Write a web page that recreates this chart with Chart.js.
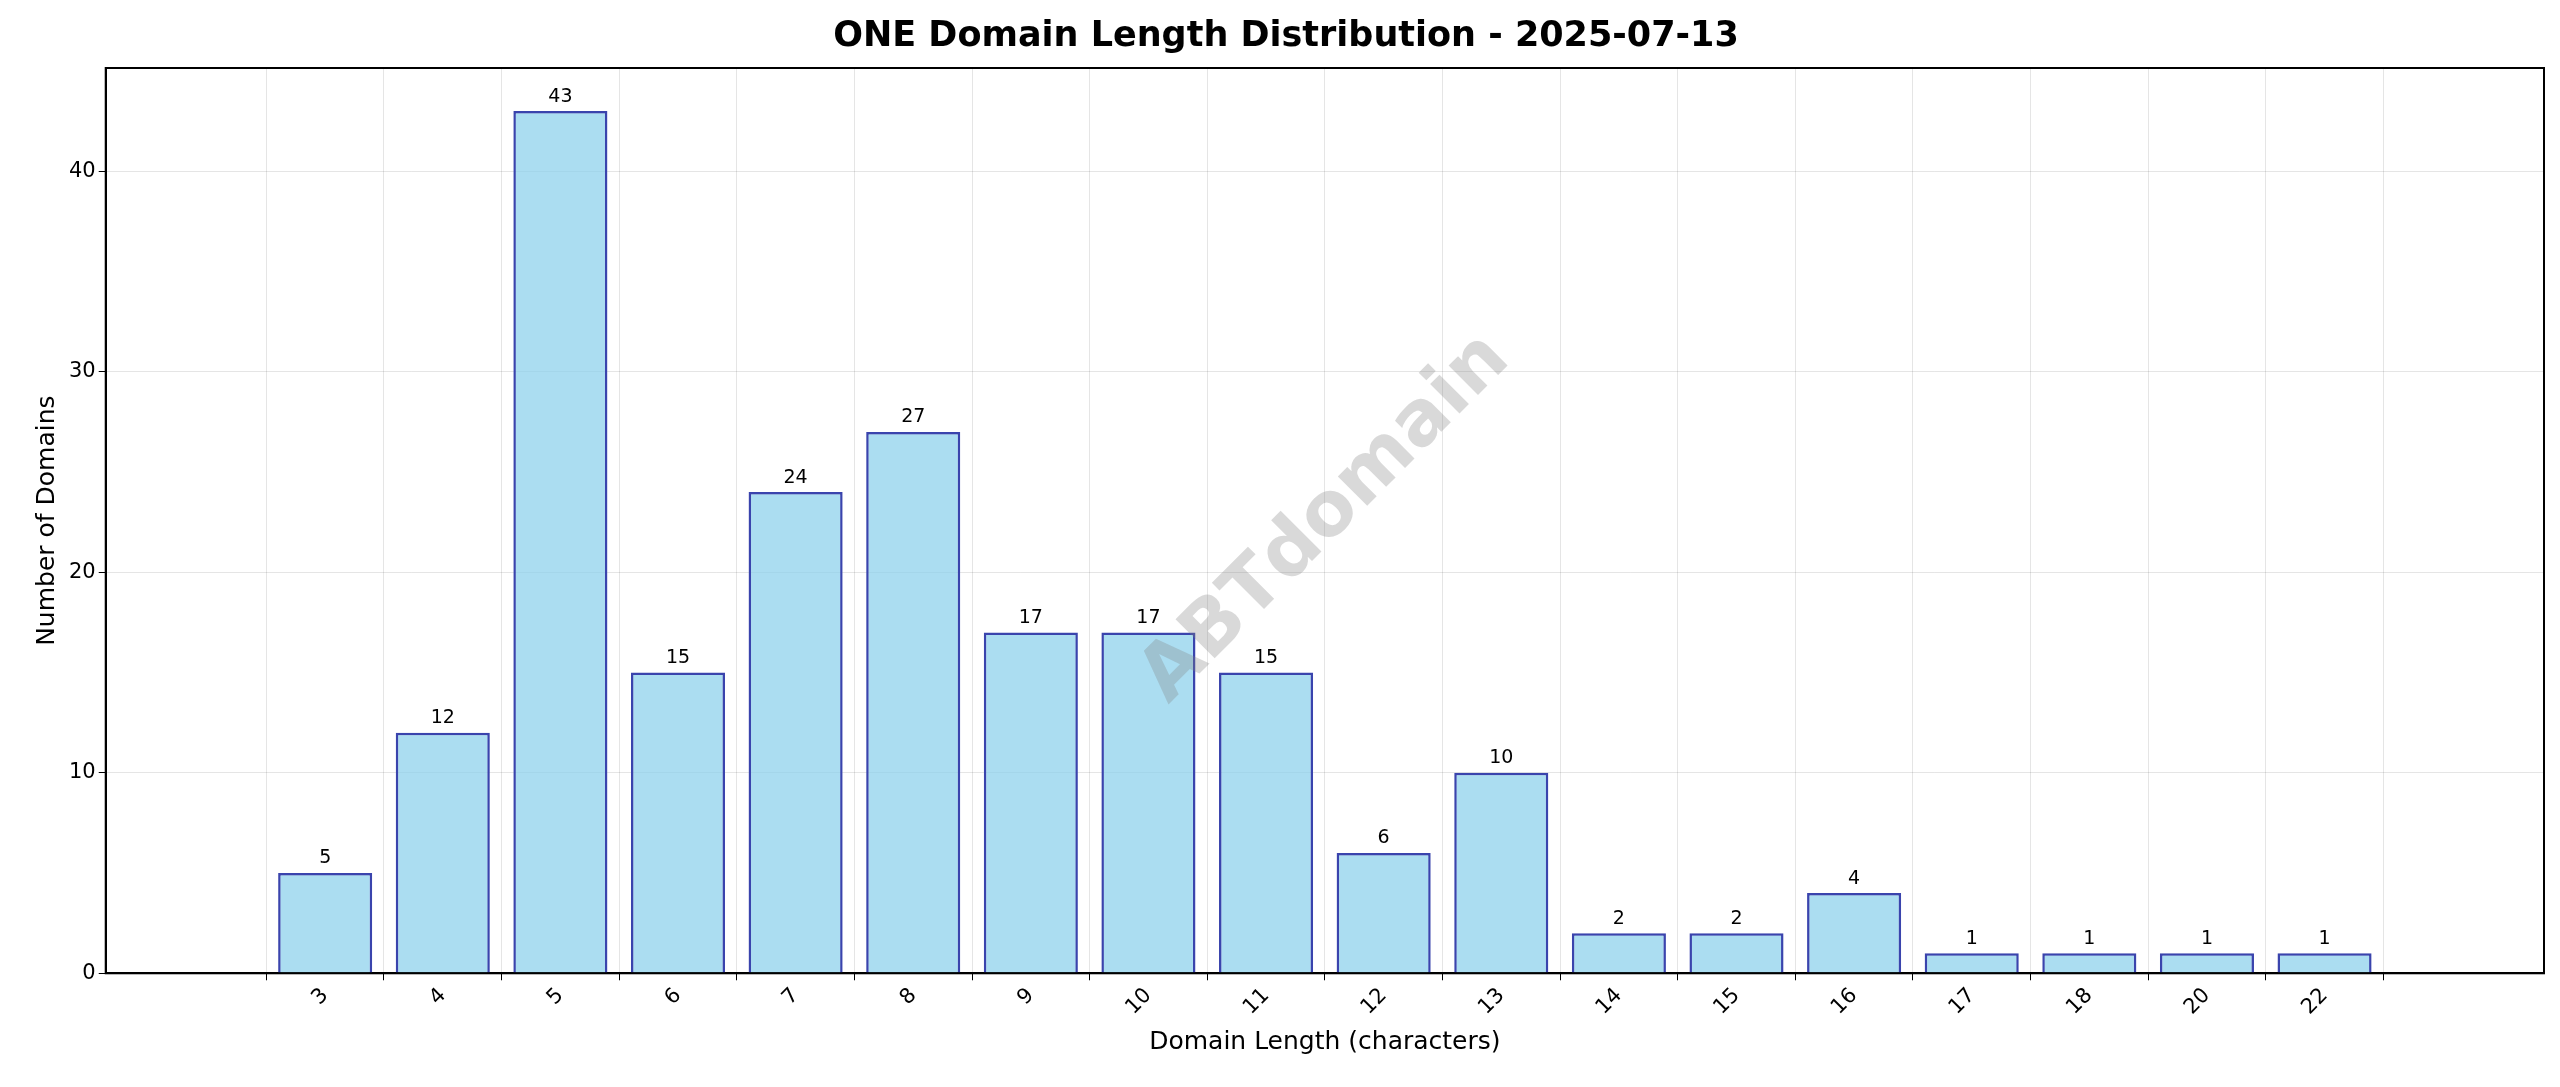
<!DOCTYPE html>
<html>
<head>
<meta charset="utf-8">
<script src="https://cdn.jsdelivr.net/npm/chart.js@4"></script>
<style>
html,body{margin:0;padding:0;background:#fff;}
#wrap{width:2560px;height:1087px;}
</style>
</head>
<body>
<div id="wrap"><canvas id="lengthChart" width="2560" height="1087"></canvas></div>
<script>
const lengths = ["3","4","5","6","7","8","9","10","11","12","13","14","15","16","17","18","20","22"];
const counts = [5,12,43,15,24,27,17,17,15,6,10,2,2,4,1,1,1,1];
const yTicks = [0,10,20,30,40];

const font = "DejaVu Sans";

// bar value labels + watermark
const extras = {
    id:"extras",
    afterDatasetsDraw(chart){
        const ctx = chart.ctx;
        const meta = chart.getDatasetMeta(0);
        ctx.save();
        ctx.fillStyle = "#000";
        ctx.font = "19px '" + font + "'";
        ctx.textAlign = "center";
        ctx.textBaseline = "bottom";
        meta.data.forEach((bar,i) => {
            ctx.fillText(counts[i], bar.x, bar.y - 5);
        });
        ctx.translate(1326, 519);
        ctx.rotate(-Math.PI / 4);
        ctx.font = "bold 76px '" + font + "'";
        ctx.fillStyle = "rgba(128,128,128,0.3)";
        ctx.textBaseline = "middle";
        ctx.fillText("ABTdomain", 0, 0);
        ctx.restore();
    }
};

new Chart(document.getElementById("lengthChart"), {
    type:"bar",
    data:{
        datasets:[{
            data:counts.map((c,i) => ({x:i, y:c})),
            backgroundColor:"rgba(135,206,235,0.7)",
            borderColor:"#3a44ad",
            borderWidth:2.5,
            categoryPercentage:1,
            barPercentage:0.8
        }]
    },
    options:{
        responsive:false,
        devicePixelRatio:1,
        animation:false,
        layout:{padding:{left:28,right:16,top:2,bottom:26}},
        plugins:{
            legend:{display:false},
            tooltip:{enabled:false},
            title:{
                display:true,
                text:"ONE Domain Length Distribution - 2025-07-13",
                color:"#000",
                font:{family:font,size:35,weight:"bold"},
                padding:{top:14,bottom:10}
            }
        },
        scales:{
            x:{
                type:"linear",
                min:-1.29,
                max:lengths.length - 1 + 1.29,
                afterBuildTicks(axis){ axis.ticks = lengths.map((l,i) => ({value:i})); },
                grid:{color:"rgba(0,0,0,0.1)",tickColor:"#000",tickLength:7},
                border:{color:"#000",width:2},
                ticks:{color:"#000",font:{family:font,size:21},maxRotation:45,minRotation:45,
                       callback:(v) => lengths[v]},
                title:{display:true,text:"Domain Length (characters)",color:"#000",font:{family:font,size:25}}
            },
            y:{
                min:0,
                max:45.15,
                afterBuildTicks(axis){ axis.ticks = yTicks.map(v => ({value:v})); },
                grid:{color:"rgba(0,0,0,0.1)",tickColor:"#000",tickLength:7},
                border:{color:"#000",width:2},
                ticks:{color:"#000",font:{family:font,size:21}},
                title:{display:true,text:"Number of Domains",color:"#000",font:{family:font,size:25}}
            }
        }
    },
    plugins:[extras, {
        id:"frame",
        afterDraw(chart){
            const a = chart.chartArea, ctx = chart.ctx;
            ctx.save();
            ctx.strokeStyle = "#000";
            ctx.lineWidth = 2;
            ctx.strokeRect(a.left, a.top, a.right - a.left, a.bottom - a.top);
            ctx.restore();
        }
    }]
});
</script>
</body>
</html>
